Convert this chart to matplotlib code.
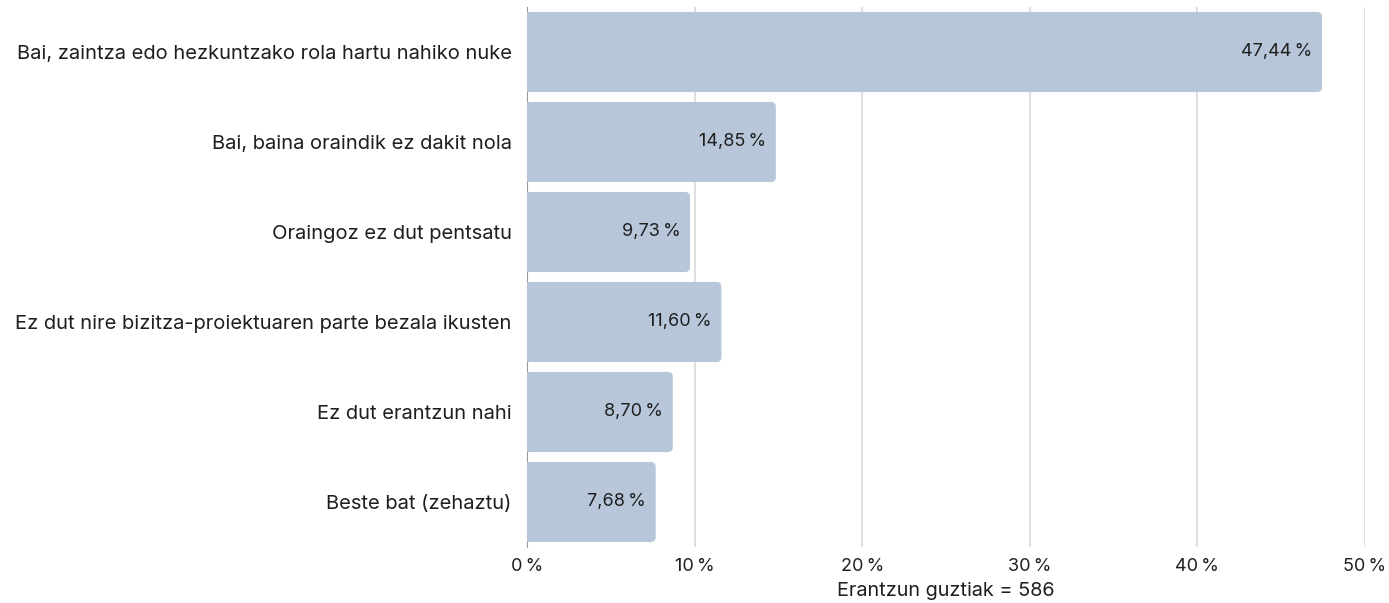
import matplotlib.pyplot as plt
from matplotlib.patches import FancyBboxPatch

plt.rcParams['font.family'] = ['Inter', 'DejaVu Sans']

categories = [
    "Bai, zaintza edo hezkuntzako rola hartu nahiko nuke",
    "Bai, baina oraindik ez dakit nola",
    "Oraingoz ez dut pentsatu",
    "Ez dut nire bizitza-proiektuaren parte bezala ikusten",
    "Ez dut erantzun nahi",
    "Beste bat (zehaztu)",
]
values = [47.44, 14.85, 9.73, 11.60, 8.70, 7.68]
xticks = [0, 10, 20, 30, 40, 50]
total = 586

bar_color = "#b7c7d9"
text_color = "#1f1f1f"


def pct(v, dec=2):
    return f"{v:.{dec}f}".replace(".", ",") + "\u202f%"


fig = plt.figure(figsize=(13.89, 6.03), dpi=100)
ax = fig.add_axes([0.3794, 0.0929, 0.6033, 0.8955])

y = list(range(len(categories)))
bars = ax.barh(y, values, height=0.89, color=bar_color, zorder=2)

# swap plain bars for ones with rounded right corners
px_x = 0.6033 * 1389 / 50.0
px_y = 0.8955 * 603 / 6.0
r = 5.0 / px_x
for b in bars:
    x0, y0, w, h = b.get_x(), b.get_y(), b.get_width(), b.get_height()
    b.set_visible(False)
    rounded = FancyBboxPatch((x0 + r, y0 + r * px_x / px_y), w - 2 * r, h - 2 * r * px_x / px_y,
                             boxstyle=f"round,pad={r},rounding_size={r}",
                             mutation_aspect=px_x / px_y,
                             facecolor=bar_color, edgecolor="none", zorder=2)
    ax.add_patch(rounded)
    ax.add_patch(plt.Rectangle((x0, y0), w / 2, h, facecolor=bar_color,
                               edgecolor="none", zorder=2))

for yi, v in zip(y, values):
    ax.annotate(pct(v), (v, yi), xytext=(-7, 0), textcoords="offset points",
                ha="right", va="center", fontsize=13, color=text_color, zorder=3)

ax.set_xlim(0, 50)
ax.set_ylim(len(categories) - 0.5, -0.5)
ax.set_yticks(y)
ax.set_yticklabels(categories, fontsize=14.5, color=text_color)
ax.set_xticks(xticks)
ax.set_xticklabels([f"{t}\u202f%" for t in xticks], fontsize=13, color=text_color)
ax.tick_params(axis="both", length=0)
ax.tick_params(axis="y", pad=11)
ax.tick_params(axis="x", pad=8)

for t in xticks[1:]:
    ax.axvline(t, color="#d9d9d9", lw=1.2, zorder=1)

for s in ["top", "right", "bottom"]:
    ax.spines[s].set_visible(False)
ax.spines["left"].set_color("#999999")
ax.spines["left"].set_zorder(1)

ax.set_xlabel(f"Erantzun guztiak = {total}", fontsize=14.3, color=text_color, labelpad=5)

fig.savefig("out.png", dpi=100)
